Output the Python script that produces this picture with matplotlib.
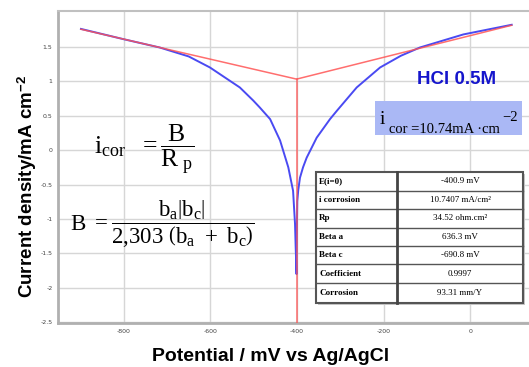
import matplotlib
matplotlib.use("Agg")
import matplotlib.pyplot as plt
from matplotlib.patches import Rectangle
from matplotlib.lines import Line2D

plt.rcParams['mathtext.fontset'] = 'custom'
plt.rcParams['mathtext.rm'] = 'Liberation Serif'
plt.rcParams['mathtext.it'] = 'Liberation Serif'
plt.rcParams['mathtext.default'] = 'rm'

W, H = 529, 367

# polarisation curve, log|i| (mA/cm2) against potential (mV)
E_curve = [-899, -800, -717, -650, -601, -532, -501, -486, -462, -439,
           -420, -409, -404.5, -403, -401, -400.4, -399.3, -397, -393, -386,
           -377.6, -354.5, -323.7, -308, -262, -208, -160, -116, -15.5, 96]
logi_curve = [1.76, 1.61, 1.49, 1.36, 1.20, 0.91, 0.72, 0.62, 0.45, 0.14,
              -0.25, -0.59, -1.07, -1.40, -1.80, -1.25, -0.74, -0.58, -0.40, -0.25,
              -0.11, 0.18, 0.45, 0.57, 0.91, 1.20, 1.37, 1.49, 1.68, 1.82]

# Tafel extrapolation
E_tafel = [-899, -400.9, 96]
logi_tafel = [1.755, 1.031, 1.813]
E_corr = -400.9
logi_corr = 1.031

x_ticks = [-800, -600, -400, -200, 0]
y_ticks = [-2.5, -2, -1.5, -1, -0.5, 0, 0.5, 1, 1.5]

param_names = ['E(i=0)', 'i corrosion', 'Rp', 'Beta a', 'Beta c',
               'Coefficient', 'Corrosion']
param_values = ['-400.9 mV', '10.7407 mA/cm\u00b2', '34.52 ohm.cm\u00b2',
                '636.3 mV', '-690.8 mV', '0.9997', '93.31 mm/Y']


def fx(x):
    return x / float(W)


def fy(y):
    return 1 - y / float(H)


fig = plt.figure(figsize=(W / 100.0, H / 100.0), dpi=100)
ax = fig.add_axes([fx(58), fy(323), fx(529 - 58), (323 - 11) / float(H)])

ax.set_xlim(-952, 136)
ax.set_ylim(-2.51, 2.02)
ax.set_xticks(x_ticks)
ax.set_yticks(y_ticks)
ax.set_xticklabels(['%d' % v for v in x_ticks])
ax.set_yticklabels(['%g' % v for v in y_ticks])
ax.tick_params(length=0, labelsize=4.5, labelcolor='#444444', pad=4)
ax.grid(True, color='#d6d6d6', lw=1)
ax.set_axisbelow(True)

for s in ['left', 'bottom']:
    ax.spines[s].set_color('#b0b0b0')
    ax.spines[s].set_linewidth(2)
ax.spines['top'].set_color('#c0c0c0')
ax.spines['top'].set_linewidth(1.5)
ax.spines['right'].set_visible(False)

ax.plot(E_curve, logi_curve, color='#4a4af2', lw=1.4, zorder=3)
ax.plot(E_tafel, logi_tafel, color='#ff5555', lw=1.1, alpha=0.85, zorder=4)
ax.plot([E_corr, E_corr], [-2.51, logi_corr], color='#ff5555', lw=1.1,
        alpha=0.85, zorder=4)

ax.set_xlabel('Potential / mV vs Ag/AgCl', fontsize=14, fontweight='bold',
              family='Liberation Sans')
ax.xaxis.set_label_coords(fx(271 - 58) / fx(529 - 58), -0.08)
ax.set_ylabel('Current density/mA cm$^{\\mathregular{-2}}$', fontsize=13.5,
              fontweight='bold', family='Liberation Sans')
ax.yaxis.set_label_coords(-0.04, 0.436)

fig.text(fx(457), fy(79), 'HCl 0.5M', fontsize=13.5, fontweight='bold',
         color='#1515cc', family='Liberation Sans', ha='center', va='center')

# corrosion current box
fig.patches.append(Rectangle((fx(375), fy(135)), fx(522 - 375), (135 - 101) / float(H),
                             transform=fig.transFigure, facecolor='#aab8f5',
                             edgecolor='none', zorder=5))
fig.text(fx(380), fy(124), 'i', fontsize=14, family='Liberation Serif',
         ha='left', va='baseline', zorder=6)
fig.text(fx(389), fy(133), 'cor =10.74mA \u00b7cm', fontsize=10.5,
         family='Liberation Serif', ha='left', va='baseline', zorder=6)
fig.text(fx(502), fy(121), '\u22122', fontsize=10.5,
         family='Liberation Serif', ha='left', va='baseline', zorder=6)

# equations
fig.text(fx(94), fy(150), r'$i_{cor}\ \ = \dfrac{B}{R_{\ p}}$', fontsize=18.5,
         ha='left', va='center')
fig.text(fx(70), fy(224),
         r'$B\ = \dfrac{b_{a}\left|b_{c}\right|}{2{,}303\ \left(b_{a}\ +\ b_{c}\right)}$',
         fontsize=16.5, ha='left', va='center')

# parameter table
rows_y = [172, 191, 209, 228, 246, 264, 283, 303]
x0, xm, x1 = 316, 397, 523
fig.patches.append(Rectangle((fx(x0 + 2), fy(rows_y[-1] + 2)), fx(x1 - x0),
                             (rows_y[-1] - rows_y[0]) / float(H),
                             transform=fig.transFigure, facecolor='#c8c8c8',
                             edgecolor='none', zorder=6))
fig.patches.append(Rectangle((fx(x0), fy(rows_y[-1])), fx(x1 - x0),
                             (rows_y[-1] - rows_y[0]) / float(H),
                             transform=fig.transFigure, facecolor='white',
                             edgecolor='#555555', lw=1.5, zorder=7))
for y in rows_y[1:-1]:
    fig.lines.append(Line2D([fx(x0), fx(x1)], [fy(y), fy(y)], color='#555555',
                            lw=1, transform=fig.transFigure, zorder=8))
fig.lines.append(Line2D([fx(xm), fx(xm)], [fy(rows_y[0]), fy(rows_y[-1])],
                        color='#444444', lw=2, transform=fig.transFigure, zorder=8))
for i in range(len(param_names)):
    yc = (rows_y[i] + rows_y[i + 1]) / 2.0
    fig.text(fx(x0 + 3), fy(yc), param_names[i], fontsize=6.5, fontweight='bold',
             family='Liberation Serif', ha='left', va='center', zorder=9)
    fig.text(fx((xm + x1) / 2.0), fy(yc), param_values[i], fontsize=6.5,
             family='Liberation Serif', ha='center', va='center', zorder=9)

fig.savefig('out.png', dpi=100)
